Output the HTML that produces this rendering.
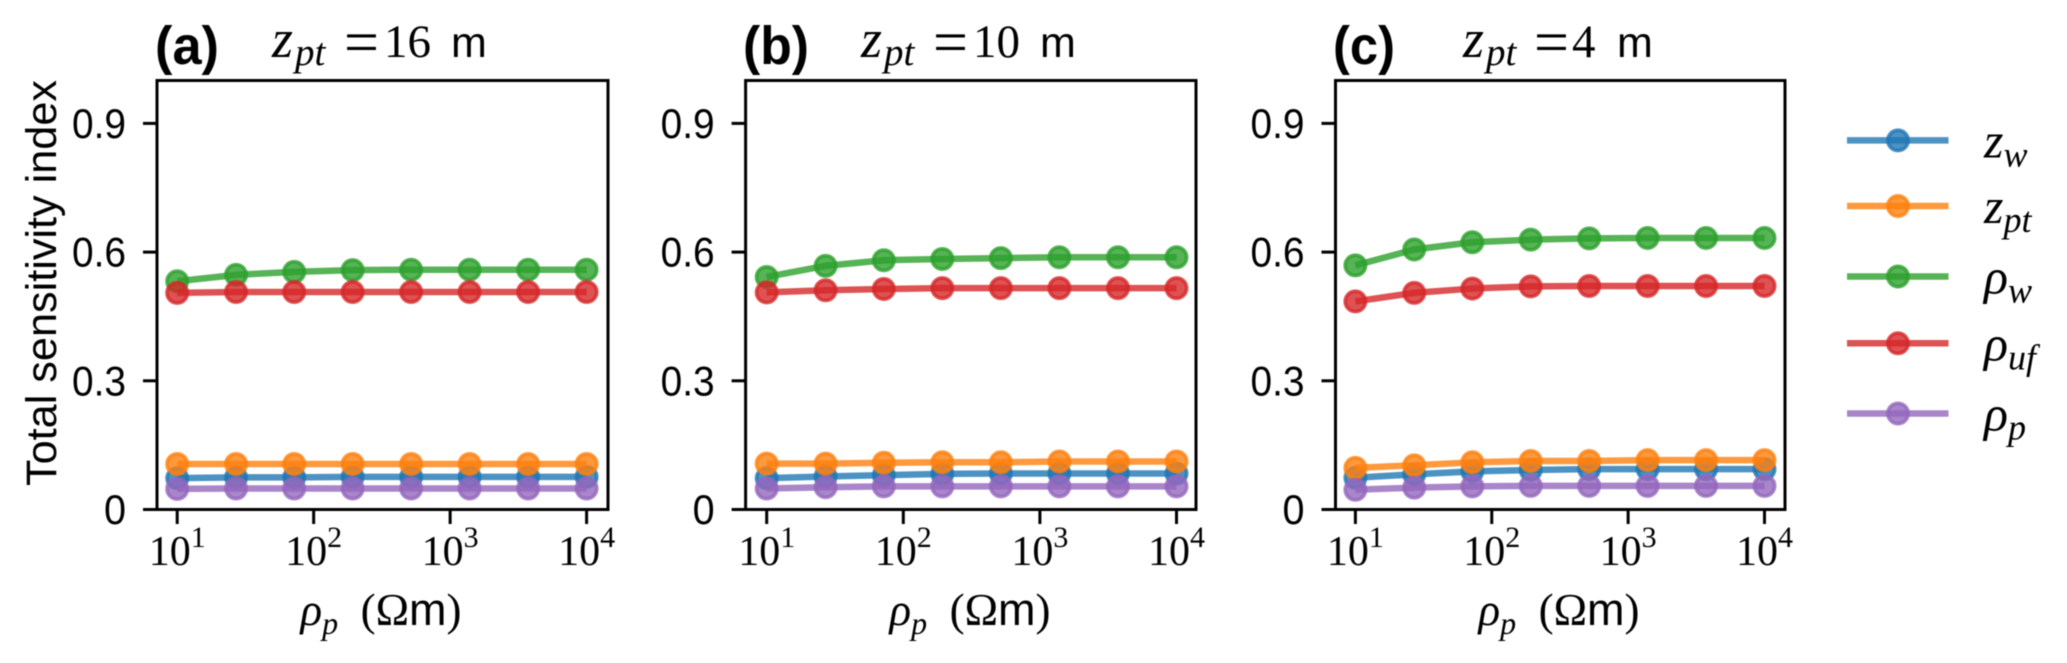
<!DOCTYPE html>
<html lang="en">
<head>
<meta charset="utf-8">
<title>Total sensitivity index</title>
<style>
html,body{margin:0;padding:0;background:#fff;}
svg{display:block;filter:blur(0.6px);}
text{fill:#000;white-space:pre;}
.sans{font-family:"Liberation Sans",sans-serif;}
.serif{font-family:"Liberation Serif",serif;}
.it{font-family:"Liberation Serif",serif;font-style:italic;}
</style>
</head>
<body>
<svg id="chart" xmlns="http://www.w3.org/2000/svg" width="2067" height="663" viewBox="0 0 2067 663">
  <rect x="0" y="0" width="2067" height="663" fill="#fff"/>

  <text class="sans" font-size="43" transform="translate(56,486) rotate(-90)" textLength="406" lengthAdjust="spacingAndGlyphs">Total sensitivity index</text>

  <g>
    <text class="sans" font-weight="bold" font-size="54" x="155" y="64" textLength="64" lengthAdjust="spacingAndGlyphs">(a)</text>
    <text font-size="47" y="57"><tspan class="it" x="272" font-size="54">z</tspan><tspan class="it" x="295" y="65" font-size="39">pt</tspan><tspan class="serif" x="384" y="57">16</tspan><tspan class="sans" x="451" font-size="43">m</tspan></text>
    <text class="serif" font-size="62" x="344" y="63">=</text>
  </g>
  <g>
    <text class="sans" font-weight="bold" font-size="54" x="743" y="64" textLength="66" lengthAdjust="spacingAndGlyphs">(b)</text>
    <text font-size="47" y="57"><tspan class="it" x="861" font-size="54">z</tspan><tspan class="it" x="884" y="65" font-size="39">pt</tspan><tspan class="serif" x="973" y="57">10</tspan><tspan class="sans" x="1040" font-size="43">m</tspan></text>
    <text class="serif" font-size="62" x="933" y="63">=</text>
  </g>
  <g>
    <text class="sans" font-weight="bold" font-size="54" x="1333" y="64" textLength="62" lengthAdjust="spacingAndGlyphs">(c)</text>
    <text font-size="47" y="57"><tspan class="it" x="1463" font-size="54">z</tspan><tspan class="it" x="1486" y="65" font-size="39">pt</tspan><tspan class="serif" x="1572" y="57">4</tspan><tspan class="sans" x="1617" font-size="43">m</tspan></text>
    <text class="serif" font-size="62" x="1534" y="63">=</text>
  </g>

  <text font-size="45" y="625" x="381" text-anchor="middle"><tspan class="it">ρ</tspan><tspan class="it" dy="9" font-size="32">p</tspan><tspan class="serif" dy="-9">  (Ω</tspan><tspan class="sans">m</tspan><tspan class="serif">)</tspan></text>
  <text font-size="45" y="625" x="970" text-anchor="middle"><tspan class="it">ρ</tspan><tspan class="it" dy="9" font-size="32">p</tspan><tspan class="serif" dy="-9">  (Ω</tspan><tspan class="sans">m</tspan><tspan class="serif">)</tspan></text>
  <text font-size="45" y="625" x="1559" text-anchor="middle"><tspan class="it">ρ</tspan><tspan class="it" dy="9" font-size="32">p</tspan><tspan class="serif" dy="-9">  (Ω</tspan><tspan class="sans">m</tspan><tspan class="serif">)</tspan></text>

  <g id="plots"></g>
  <g id="legend"></g>
</svg>

<script>
// ---- data ----
const xValues = [10, 27, 72, 193, 518, 1389, 3728, 10000];
const yTickValues = [0, 0.3, 0.6, 0.9];
const yTickLabels = ['0', '0.3', '0.6', '0.9'];
const xTickValues = [10, 100, 1000, 10000];
const xTickExponents = ['1', '2', '3', '4'];
const seriesKeys = ['z-w', 'z-pt', 'rho-w', 'rho-uf', 'rho-p'];
const seriesColors = ['#1f77b4', '#ff7f0e', '#2ca02c', '#d62728', '#9467bd'];
const panelKeys = ['a', 'b', 'c'];

const panelAzw  = [0.073, 0.075, 0.075, 0.076, 0.076, 0.076, 0.076, 0.076];
const panelAzpt = [0.106, 0.106, 0.106, 0.106, 0.106, 0.106, 0.106, 0.106];
const panelArw  = [0.532, 0.547, 0.554, 0.558, 0.559, 0.559, 0.559, 0.559];
const panelAruf = [0.505, 0.507, 0.507, 0.507, 0.507, 0.507, 0.507, 0.507];
const panelArp  = [0.048, 0.049, 0.049, 0.049, 0.049, 0.049, 0.049, 0.049];

const panelBzw  = [0.073, 0.077, 0.080, 0.083, 0.084, 0.084, 0.084, 0.084];
const panelBzpt = [0.107, 0.107, 0.109, 0.110, 0.110, 0.112, 0.112, 0.112];
const panelBrw  = [0.542, 0.568, 0.581, 0.584, 0.586, 0.588, 0.588, 0.588];
const panelBruf = [0.506, 0.511, 0.514, 0.516, 0.516, 0.516, 0.516, 0.516];
const panelBrp  = [0.049, 0.052, 0.054, 0.054, 0.054, 0.054, 0.054, 0.054];

const panelCzw  = [0.074, 0.082, 0.089, 0.092, 0.094, 0.094, 0.094, 0.094];
const panelCzpt = [0.097, 0.103, 0.110, 0.113, 0.113, 0.115, 0.115, 0.115];
const panelCrw  = [0.569, 0.606, 0.623, 0.629, 0.632, 0.633, 0.633, 0.633];
const panelCruf = [0.485, 0.505, 0.515, 0.520, 0.521, 0.521, 0.521, 0.521];
const panelCrp  = [0.046, 0.051, 0.054, 0.055, 0.055, 0.055, 0.055, 0.055];

const panelSeries = [
  [panelAzw, panelAzpt, panelArw, panelAruf, panelArp],
  [panelBzw, panelBzpt, panelBrw, panelBruf, panelBrp],
  [panelCzw, panelCzpt, panelCrw, panelCruf, panelCrp]
];

// ---- layout ----
const NS = 'http://www.w3.org/2000/svg';
const plotTop = 80.5, plotBottom = 509.5;
const frames = [
  {left: 157, right: 608, x10: 177.2, x1e4: 586.6},
  {left: 745.6, right: 1196, x10: 766.7, x1e4: 1176.5},
  {left: 1335.5, right: 1785, x10: 1355.4, x1e4: 1764.5}
];
const yScale = v => plotBottom - v * (plotBottom - plotTop);
const xScale = (v, f) => f.x10 + (Math.log10(v) - 1) / 3 * (f.x1e4 - f.x10);

function make(tag, attrs, parent) {
  const el = document.createElementNS(NS, tag);
  for (const k in attrs) el.setAttribute(k, attrs[k]);
  parent.appendChild(el);
  return el;
}

function drawMarker(cx, cy, color, parent) {
  const el = make('circle', {cx: cx, cy: cy, r: 10.2, fill: color, 'fill-opacity': 0.8, stroke: color, 'stroke-opacity': 0.8, 'stroke-width': 3.6}, parent);
  return el;
}

const plots = document.getElementById('plots');
panelKeys.forEach((key, p) => {
  const f = frames[p];
  const g = make('g', {}, plots);
  
  

  seriesKeys.forEach((sKey, s) => {
    const color = seriesColors[s];
    const vals = panelSeries[p][s];
    const sg = make('g', {}, g);
    
    
    const pts = vals.map((v, i) => xScale(xValues[i], f).toFixed(2) + ',' + yScale(v).toFixed(2)).join(' ');
    const line = make('polyline', {points: pts, fill: 'none', stroke: color, 'stroke-opacity': 0.8, 'stroke-width': 6.5, 'stroke-linejoin': 'round'}, sg);
    
    
    vals.forEach((v, i) => {
      const dot = drawMarker(xScale(xValues[i], f), yScale(v), color, sg);
      
      
    });
  });

  const frame = make('rect', {x: f.left, y: plotTop, width: f.right - f.left, height: plotBottom - plotTop, fill: 'none', stroke: '#000', 'stroke-width': 3}, g);
  
  

  yTickValues.forEach((v, i) => {
    const y = yScale(v);
    const tick = make('line', {x1: f.left - 14, x2: f.left, y1: y, y2: y, stroke: '#000', 'stroke-width': 3}, g);
    
    
    const label = make('text', {x: f.left - 31, y: y + 14.5, 'text-anchor': 'end', 'font-size': 42, class: 'sans', textLength: yTickLabels[i].length > 1 ? 54 : 22, lengthAdjust: 'spacingAndGlyphs'}, g);
    
    
    label.textContent = yTickLabels[i];
  });

  xTickValues.forEach((v, i) => {
    const x = xScale(v, f);
    const tick = make('line', {x1: x, x2: x, y1: plotBottom, y2: plotBottom + 14.5, stroke: '#000', 'stroke-width': 3}, g);
    
    
    const label = make('text', {x: x, y: 565, 'text-anchor': 'middle', 'font-size': 42, class: 'serif'}, g);
    
    
    label.appendChild(document.createTextNode('10'));
    const sup = make('tspan', {dy: -18, 'font-size': 30}, label);
    sup.textContent = xTickExponents[i];
  });
});

// ---- legend ----
const legendSymbols = ['z', 'z', 'ρ', 'ρ', 'ρ'];
const legendSubscripts = ['w', 'pt', 'w', 'uf', 'p'];
const legendRows = [140.4, 206, 276.5, 343.3, 413.5];
const legend = document.getElementById('legend');
seriesKeys.forEach((sKey, s) => {
  const y = legendRows[s];
  const color = seriesColors[s];
  const g = make('g', {}, legend);
  
  
  const line = make('line', {x1: 1847, x2: 1948.5, y1: y, y2: y, stroke: color, 'stroke-opacity': 0.8, 'stroke-width': 6.5}, g);
  
  
  const dot = drawMarker(1898, y, color, g);
  
  
  const label = make('text', {x: 1984, y: y + 17, 'font-size': 50, class: 'it'}, g);
  
  
  label.appendChild(document.createTextNode(legendSymbols[s]));
  const sub = make('tspan', {dy: 9, 'font-size': 36}, label);
  sub.textContent = legendSubscripts[s];
});
</script>
</body>
</html>
